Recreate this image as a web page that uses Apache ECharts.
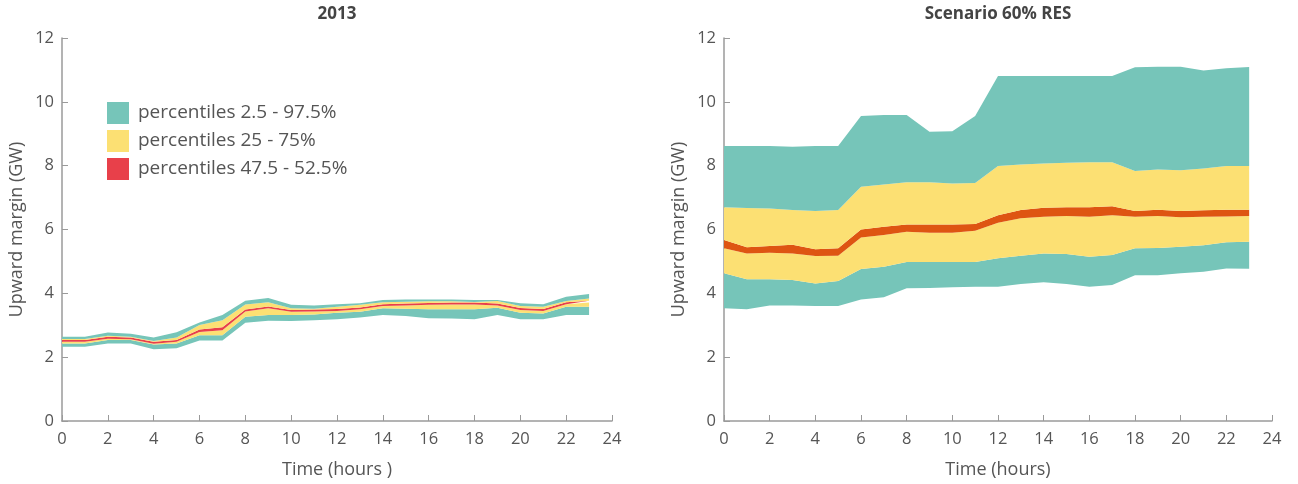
<!DOCTYPE html>
<html>
<head>
<meta charset="utf-8">
<script src="https://cdn.jsdelivr.net/npm/echarts@6/dist/echarts.min.js"></script>
<style>
html,body{margin:0;padding:0;background:#fff;}
#c{width:1298px;height:484px;}
</style>
</head>
<body>
<div id="c"></div>
<script>
// Hour categories on the x axis (0..24); data points at hours 0..23
const xCats = ['0','1','2','3','4','5','6','7','8','9','10','11','12','13','14','15','16','17','18','19','20','21','22','23','24'];

// Left chart: 2013
const L_p025 = [2.33,2.33,2.43,2.43,2.25,2.28,2.52,2.52,3.08,3.14,3.13,3.16,3.19,3.24,3.32,3.29,3.22,3.21,3.19,3.32,3.19,3.19,3.32,3.32];
const L_p25  = [2.43,2.43,2.54,2.54,2.40,2.43,2.69,2.69,3.27,3.32,3.32,3.34,3.39,3.42,3.53,3.52,3.50,3.50,3.50,3.55,3.39,3.37,3.58,3.58];
const L_p475 = [2.48,2.48,2.58,2.56,2.42,2.48,2.79,2.84,3.43,3.53,3.42,3.43,3.45,3.50,3.60,3.62,3.64,3.65,3.65,3.62,3.48,3.45,3.66,3.71];
const L_p525 = [2.54,2.54,2.64,2.62,2.48,2.54,2.87,2.94,3.49,3.59,3.48,3.49,3.51,3.56,3.66,3.68,3.70,3.71,3.71,3.68,3.54,3.51,3.72,3.77];
const L_p75  = [2.57,2.57,2.67,2.64,2.51,2.62,3.01,3.16,3.65,3.72,3.53,3.52,3.58,3.64,3.72,3.74,3.75,3.75,3.73,3.76,3.60,3.58,3.76,3.84];
const L_p975 = [2.64,2.64,2.77,2.73,2.62,2.78,3.09,3.32,3.77,3.85,3.64,3.62,3.66,3.69,3.79,3.81,3.81,3.81,3.79,3.79,3.69,3.66,3.89,3.98];

// Right chart: Scenario 60% RES
const R_p025 = [3.53,3.50,3.62,3.62,3.60,3.60,3.81,3.88,4.16,4.17,4.19,4.21,4.21,4.29,4.35,4.29,4.21,4.26,4.57,4.57,4.63,4.68,4.78,4.77];
const R_p25  = [4.63,4.44,4.44,4.42,4.31,4.39,4.76,4.83,4.98,4.98,4.98,4.98,5.10,5.18,5.25,5.23,5.15,5.20,5.41,5.42,5.46,5.51,5.60,5.62];
const R_p475 = [5.41,5.25,5.27,5.25,5.17,5.18,5.75,5.83,5.93,5.90,5.90,5.96,6.21,6.35,6.40,6.42,6.40,6.45,6.40,6.42,6.38,6.40,6.41,6.42];
const R_p525 = [5.67,5.44,5.48,5.52,5.38,5.41,6.00,6.09,6.16,6.16,6.16,6.17,6.45,6.61,6.68,6.70,6.70,6.73,6.58,6.62,6.58,6.60,6.62,6.62];
const R_p75  = [6.70,6.67,6.66,6.61,6.58,6.61,7.34,7.41,7.48,7.48,7.44,7.46,7.99,8.04,8.07,8.09,8.11,8.11,7.83,7.88,7.86,7.91,7.99,7.99];
const R_p975 = [8.62,8.62,8.62,8.59,8.62,8.62,9.56,9.59,9.59,9.06,9.08,9.56,10.81,10.81,10.81,10.81,10.81,10.81,11.08,11.10,11.10,10.98,11.05,11.09];

const titles = ['2013', 'Scenario 60% RES'];
const xNames = ['Time (hours )', 'Time (hours)'];
const yName = 'Upward margin (GW)';
const legendNames = ['percentiles 2.5 - 97.5%', 'percentiles 25 - 75%', 'percentiles 47.5 - 52.5%'];

const TEAL = '#76C5B9', YELLOW = '#FCE073', RED = '#E8404A', ORANGE = '#DE5512';
const FONT = 'Open Sans';
const AX = '#9a9a9a', TXT = '#555';

function diff(a, b) { return a.map((v, i) => +(v - b[i]).toFixed(3)); }

function bandSeries(idx, p025, p25, p475, p525, p75, p975, mid, names) {
  const stack = 's' + idx;
  const mk = (name, data, color) => ({
    type: 'line', name: name, xAxisIndex: idx, yAxisIndex: idx, stack: stack,
    data: data, symbol: 'none', showSymbol: false, smooth: false, silent: true,
    color: color || 'rgba(0,0,0,0)',
    lineStyle: { width: 0, opacity: 0 },
    itemStyle: { color: color || 'rgba(0,0,0,0)' },
    areaStyle: color ? { color: color, opacity: 1 } : { opacity: 0 }
  });
  return [
    mk(names[3], p025.slice(), null),
    mk(names[0], diff(p25, p025), TEAL),
    mk(names[1], diff(p475, p25), YELLOW),
    mk(names[2], diff(p525, p475), mid),
    mk(names[1], diff(p75, p525), YELLOW),
    mk(names[0], diff(p975, p75), TEAL)
  ];
}

const grids = [
  { left: 62, top: 38, width: 550, height: 383 },
  { left: 724, top: 38, width: 548, height: 383 }
];

function xAx(i) {
  return {
    type: 'category', gridIndex: i, data: xCats, boundaryGap: false,
    name: xNames[i], nameLocation: 'middle', nameGap: 40,
    nameTextStyle: { fontFamily: FONT, fontSize: 18, color: TXT },
    axisLine: { lineStyle: { color: AX, width: 1.5 } },
    axisTick: { inside: true, length: 6, interval: 1, lineStyle: { color: AX } },
    axisLabel: { fontFamily: FONT, fontSize: 16.5, color: TXT, margin: 10, interval: 1 },
    splitLine: { show: false }
  };
}
function yAx(i) {
  return {
    type: 'value', gridIndex: i, min: 0, max: 12, interval: 2,
    name: yName, nameLocation: 'middle', nameGap: 36,
    nameTextStyle: { fontFamily: FONT, fontSize: 18, color: TXT },
    axisLine: { show: true, lineStyle: { color: AX, width: 1.5 } },
    axisTick: { show: true, inside: true, length: 6, lineStyle: { color: AX } },
    axisLabel: { fontFamily: FONT, fontSize: 16.5, color: TXT, margin: 8 },
    splitLine: { show: false }
  };
}

const chart = echarts.init(document.getElementById('c'), null, { renderer: 'canvas' });
chart.setOption({
  animation: false,
  backgroundColor: '#fff',
  grid: grids,
  xAxis: [xAx(0), xAx(1)],
  yAxis: [yAx(0), yAx(1)],
  graphic: [
    { type: 'text', x: 337, y: 6, style: { text: titles[0], textAlign: 'center', textVerticalAlign: 'top', font: 'bold 17px "' + FONT + '"', fill: '#444' } },
    { type: 'text', x: 998, y: 6, style: { text: titles[1], textAlign: 'center', textVerticalAlign: 'top', font: 'bold 17px "' + FONT + '"', fill: '#444' } }
  ],
  legend: {
    data: [
      { name: legendNames[0], itemStyle: { color: TEAL } },
      { name: legendNames[1], itemStyle: { color: YELLOW } },
      { name: legendNames[2], itemStyle: { color: RED } }
    ],
    orient: 'vertical', left: 107, top: 102, padding: 0,
    itemWidth: 22, itemHeight: 22, itemGap: 6,
    icon: 'rect', selectedMode: false,
    textStyle: { fontFamily: FONT, fontSize: 19, color: TXT, padding: [0, 0, 0, 4] }
  },
  series: [].concat(
    bandSeries(0, L_p025, L_p25, L_p475, L_p525, L_p75, L_p975, RED, legendNames.concat(['base0'])),
    bandSeries(1, R_p025, R_p25, R_p475, R_p525, R_p75, R_p975, ORANGE, ['r_outer', 'r_inner', 'r_mid', 'base1'])
  )
});
</script>
</body>
</html>
